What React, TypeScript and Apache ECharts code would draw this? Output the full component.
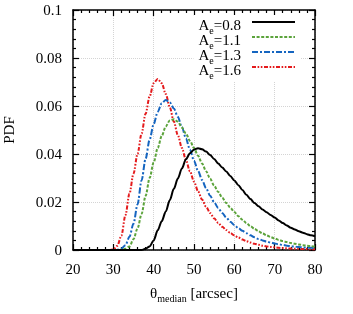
import React, { useEffect, useRef } from "react";
import * as echarts from "echarts";

const thetaValues = [
  20, 21, 22, 23, 24, 25, 26, 27, 28, 29, 30, 31, 32, 33, 34, 35, 36, 37, 38, 39,
  40, 41, 42, 43, 44, 45, 46, 47, 48, 49, 50, 51, 52, 53, 54, 55, 56, 57, 58, 59,
  60, 61, 62, 63, 64, 65, 66, 67, 68, 69, 70, 71, 72, 73, 74, 75, 76, 77, 78, 79, 80,
];

const aeLabels = ["0.8", "1.1", "1.3", "1.6"];

// Ae = 0.8
const pdfAe08 = [
  0, 0, 0, 0, 0, 0, 0, 0, 0, 0, 0, 0, 0, 0, 0, 0, 0, 0,
  0.0005, 0.0015, 0.004, 0.0082, 0.012, 0.016, 0.0208, 0.0255, 0.0298, 0.034,
  0.0378, 0.0403, 0.0418, 0.0424, 0.042, 0.041, 0.0396, 0.0379, 0.036, 0.0344,
  0.0327, 0.0308, 0.029, 0.027, 0.025, 0.023, 0.0212, 0.0196, 0.0182, 0.0169,
  0.0157, 0.0146, 0.0135, 0.0123, 0.0112, 0.0102, 0.0093, 0.0085, 0.0078, 0.0072,
  0.0066, 0.0061, 0.0057,
];

// Ae = 1.1
const pdfAe11 = [
  0, 0, 0, 0, 0, 0, 0, 0, 0, 0, 0, 0,
  0.0001, 0.0005, 0.0015, 0.0045, 0.009, 0.015, 0.0225, 0.03, 0.0365, 0.0425,
  0.0475, 0.0515, 0.054, 0.0545, 0.0535, 0.051, 0.0485, 0.0455, 0.0425, 0.0393,
  0.036, 0.0328, 0.0297, 0.0268, 0.0242, 0.0218, 0.0196, 0.0176, 0.0158, 0.0141,
  0.0126, 0.0112, 0.0099, 0.0088, 0.0078, 0.0069, 0.0061, 0.0054, 0.0048, 0.0042,
  0.0037, 0.0033, 0.0029, 0.0026, 0.0023, 0.002, 0.0018, 0.0016, 0.0014,
];

// Ae = 1.3
const pdfAe13 = [
  0, 0, 0, 0, 0, 0, 0, 0, 0, 0, 0,
  0.0001, 0.0006, 0.002, 0.0055, 0.011, 0.019, 0.029, 0.038, 0.046, 0.0525,
  0.0575, 0.0612, 0.0625, 0.0615, 0.059, 0.0555, 0.0512, 0.0465, 0.0418, 0.0372,
  0.033, 0.0292, 0.0257, 0.0226, 0.0199, 0.0175, 0.0154, 0.0135, 0.0118, 0.0104,
  0.0091, 0.008, 0.007, 0.0061, 0.0053, 0.0046, 0.004, 0.0035, 0.0031, 0.0027,
  0.0024, 0.0021, 0.0018, 0.0016, 0.0014, 0.0012, 0.0011, 0.001, 0.0009, 0.0008,
];

// Ae = 1.6
const pdfAe16 = [
  0, 0, 0, 0, 0, 0, 0, 0, 0, 0,
  0.0002, 0.0018, 0.006, 0.0145, 0.0235, 0.0318, 0.04, 0.0485, 0.0568, 0.064,
  0.0695, 0.0713, 0.0695, 0.065, 0.0595, 0.0535, 0.0478, 0.0425, 0.0375, 0.0328,
  0.0285, 0.0245, 0.021, 0.018, 0.0154, 0.0132, 0.0113, 0.0097, 0.0083, 0.0071,
  0.0061, 0.0052, 0.0044, 0.0037, 0.0031, 0.0026, 0.0022, 0.0018, 0.0015, 0.0013,
  0.0011, 0.0009, 0.0008, 0.0007, 0.0006, 0.0005, 0.0005, 0.0004, 0.0004, 0.0003, 0.0003,
];

const xTickValues = [20, 30, 40, 50, 60, 70, 80];
const yTickValues = [0, 0.02, 0.04, 0.06, 0.08, 0.1];

const FONT = "'Liberation Serif', 'DejaVu Serif', serif";

export default function App() {
  const ref = useRef<HTMLDivElement>(null);

  useEffect(() => {
    if (!ref.current) return;
    const chart = echarts.init(ref.current, null, { renderer: "svg" });

    const allSeries = [pdfAe08, pdfAe11, pdfAe13, pdfAe16];
    const colors = ["#000000", "#5ba33b", "#1565c0", "#e41a1c"];
    const dashes: any[] = ["solid", [3, 1.6], [6, 2, 2, 2], [4, 1.6, 1.6, 1.6, 1.6, 1.6]];
    const names = aeLabels.map((a) => "Ae=" + a);

    const commonAxisStyle = {
      axisLine: { show: true, onZero: false, lineStyle: { color: "#000", width: 1.5 } },
      axisTick: { show: true, inside: true, length: 6, lineStyle: { color: "#000", width: 1.2 } },
      minorTick: { show: true, splitNumber: 5, length: 3, lineStyle: { color: "#000", width: 1.2 } },
    };

    const richMain = { fontFamily: FONT, fontSize: 15, lineHeight: 10, verticalAlign: "top", color: "#000" };
    const richSub = { fontFamily: FONT, fontSize: 10, lineHeight: 6, padding: [8, 0, 0, 0], verticalAlign: "top", color: "#000" };

    const option: any = {
      animation: false,
      grid: { left: 73, right: 38, top: 10, bottom: 64, containLabel: false, outerBoundsMode: "none" },
      legend: {
        data: names,
        orient: "vertical",
        right: 52,
        top: 15,
        align: "right",
        itemWidth: 43,
        itemHeight: 12,
        itemGap: -3,
        padding: [2, 5],
        backgroundColor: "#ffffff",
        itemStyle: { opacity: 0 },
        formatter: (name: string) => `{a|A}{s|e}{a|=${name.split("=")[1]}}`,
        textStyle: {
          padding: [0, 6, 0, 0],
          rich: { a: richMain, s: richSub },
        },
      },
      xAxis: [
        {
          type: "value",
          min: xTickValues[0],
          max: xTickValues[xTickValues.length - 1],
          interval: 10,
          ...commonAxisStyle,
          axisLabel: { show: true, margin: 11, fontFamily: FONT, fontSize: 15, color: "#000" },
          splitLine: { show: true, lineStyle: { color: "#d4d4d4", type: "dotted", width: 1 } },
          name: "{t|θ}{s|median}{t| [arcsec]}",
          nameLocation: "middle",
          nameGap: 35,
          nameTextStyle: { rich: { t: richMain, s: richSub } },
        },
        {
          type: "value",
          position: "top",
          min: xTickValues[0],
          max: xTickValues[xTickValues.length - 1],
          interval: 10,
          ...commonAxisStyle,
          axisLabel: { show: false },
          splitLine: { show: false },
        },
      ],
      yAxis: [
        {
          type: "value",
          min: yTickValues[0],
          max: yTickValues[yTickValues.length - 1],
          interval: 0.02,
          ...commonAxisStyle,
          axisLabel: { show: true, margin: 11, fontFamily: FONT, fontSize: 15, color: "#000" },
          splitLine: { show: true, lineStyle: { color: "#d4d4d4", type: "dotted", width: 1 } },
          name: "PDF",
          nameLocation: "middle",
          nameRotate: 90,
          nameGap: 57,
          nameTextStyle: { fontFamily: FONT, fontSize: 15, color: "#000" },
        },
        {
          type: "value",
          position: "right",
          min: yTickValues[0],
          max: yTickValues[yTickValues.length - 1],
          interval: 0.02,
          ...commonAxisStyle,
          axisLabel: { show: false },
          splitLine: { show: false },
        },
      ],
      series: allSeries.map((vals, i) => ({
        name: names[i],
        type: "line",
        xAxisIndex: 0,
        yAxisIndex: 0,
        showSymbol: false,
        symbol: "none",
        smooth: 0.3,
        smoothMonotone: "x",
        clip: true,
        color: colors[i],
        lineStyle: { color: colors[i], width: 2, type: dashes[i] },
        data: thetaValues.map((x, j) => [x, vals[j]]),
        z: 10 - i,
      })),
    };

    chart.setOption(option);
    return () => chart.dispose();
  }, []);

  return (
    <div
      ref={ref}
      style={{ position: "fixed", left: 0, top: 0, width: 353, height: 314 }}
    />
  );
}
